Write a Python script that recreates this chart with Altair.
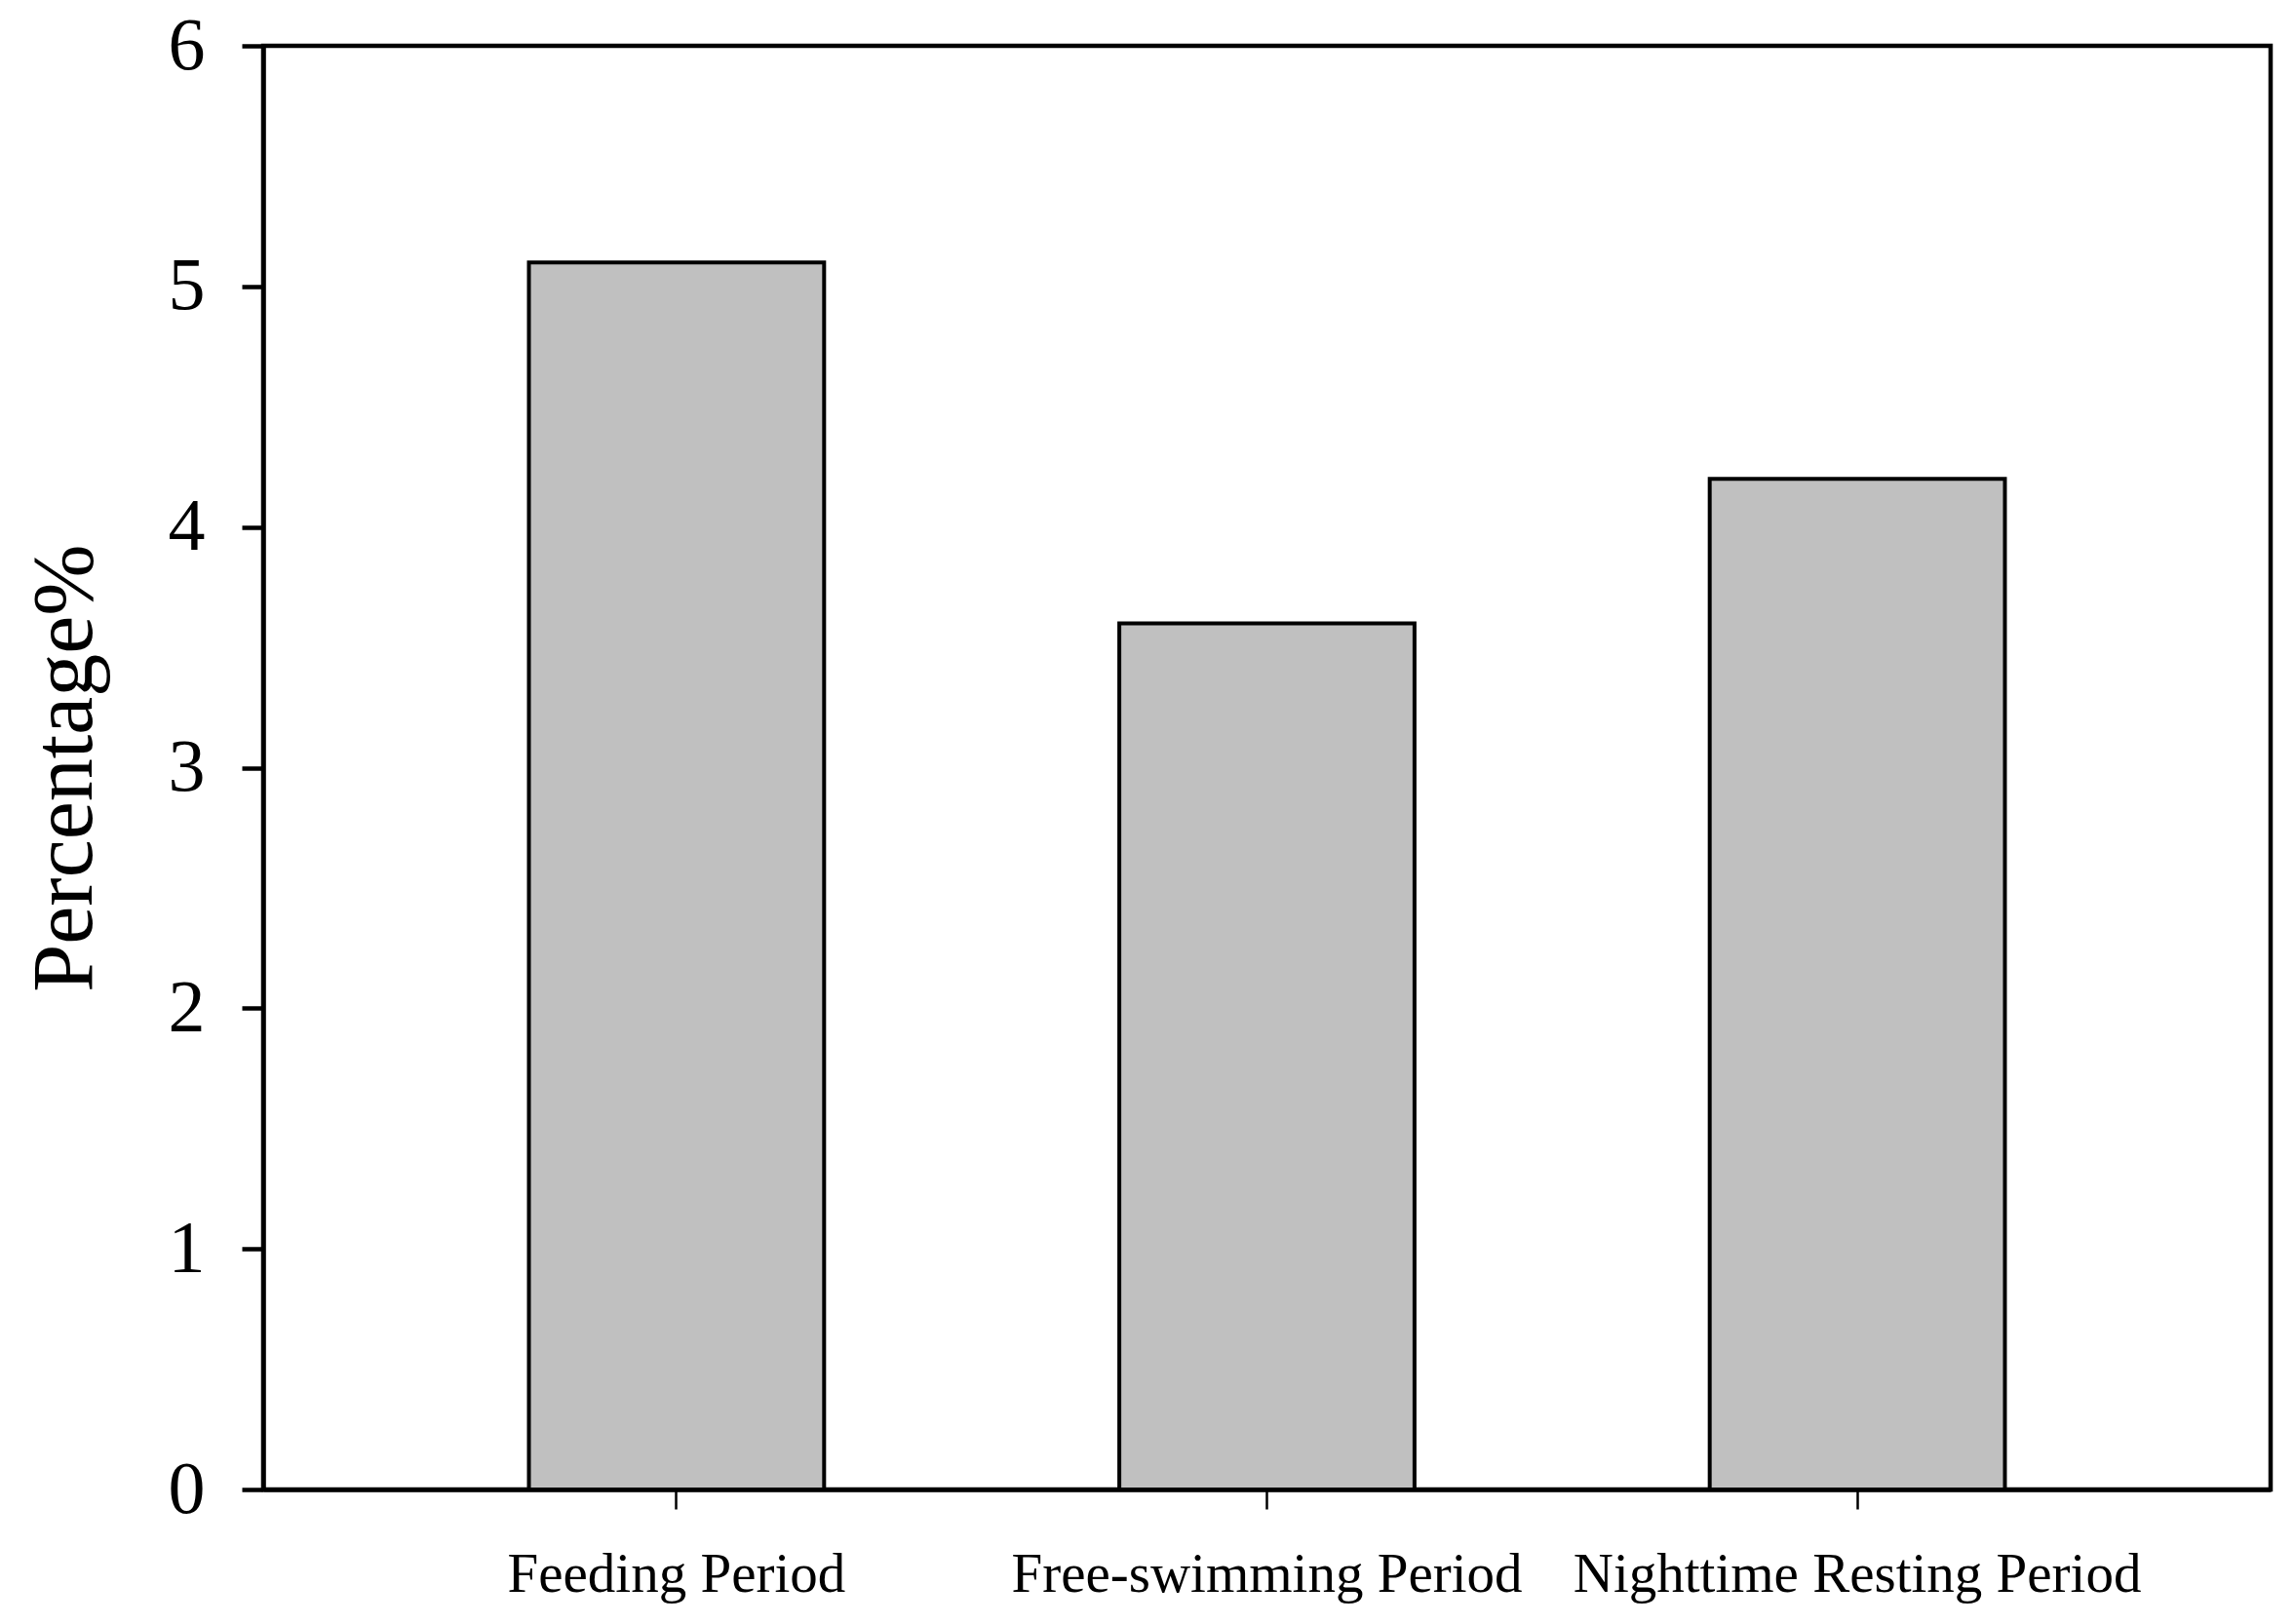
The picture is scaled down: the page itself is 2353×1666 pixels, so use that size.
import altair as alt
import pandas as pd

categories = ["Feeding Period", "Free-swimming Period", "Nighttime Resting Period"]
values = [5.1, 3.6, 4.2]

df = pd.DataFrame({"period": categories, "pct": values})

font = "Liberation Serif"

bars = alt.Chart(df).mark_bar(
    fill="#c0c0c0", stroke="black", strokeWidth=4
).encode(
    x=alt.X(
        "period:N",
        sort=categories,
        scale=alt.Scale(paddingInner=0.5, paddingOuter=0.45),
        axis=alt.Axis(
            title=None, labelAngle=0, labelFont=font, labelFontSize=57,
            labelColor="black", labelPadding=39, labelLimit=1000,
            tickSize=20, tickWidth=2.5,
            tickColor="black", domainColor="black", domainWidth=4.5,
        ),
    ),
    y=alt.Y(
        "pct:Q",
        scale=alt.Scale(domain=[0, 6], nice=False),
        axis=alt.Axis(
            title="Percentage%", values=[0, 1, 2, 3, 4, 5, 6], format="d",
            grid=False, labelFont=font, labelFontSize=76, labelColor="black",
            labelPadding=38, tickSize=22, tickWidth=4.5, tickColor="black",
            domainColor="black", domainWidth=4.5, titleFont=font,
            titleFontSize=88, titleFontWeight="normal", titleColor="black",
            titleX=-177, titleBaseline="alphabetic",
        ),
    ),
)

chart = bars.properties(
    width=2059,
    height=1481,
    background="white",
    autosize=alt.AutoSizeParams(type="none"),
    padding={"left": 262, "top": 39, "right": 16, "bottom": 130},
).configure_view(
    stroke="black", strokeWidth=4.5
)

chart.save("out.html", embed_options={"renderer": "svg", "actions": False})
